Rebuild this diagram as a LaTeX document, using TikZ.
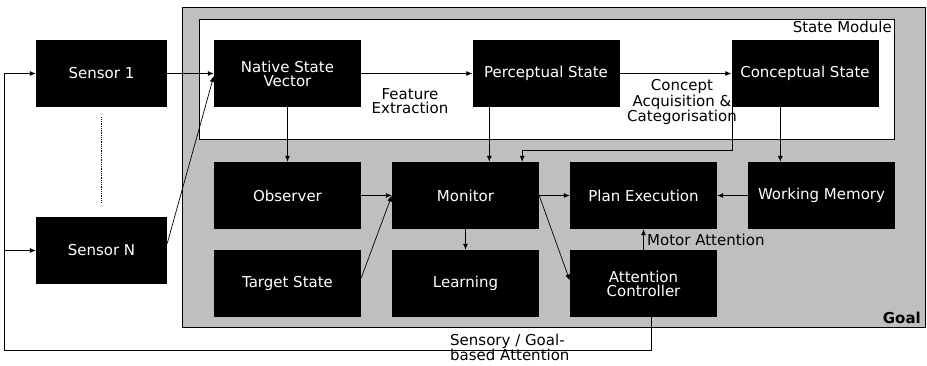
\documentclass[tikz,border=0pt]{standalone}
\usepackage{fontspec}
\setmainfont{DejaVu Sans}
\usetikzlibrary{arrows.meta,positioning,calc}

\begin{document}
\begin{tikzpicture}[x=1pt,y=-1pt,
every node/.style={font=\fontsize{15}{14}\selectfont},
blk/.style={fill=black,text=white,minimum width=147pt,minimum height=67pt,inner sep=0pt,align=center},
arr/.style={-{Latex[length=6pt,width=5pt]},line width=.7pt},
lbl/.style={align=center,inner sep=0pt}]
\useasboundingbox (0,0) rectangle (927,365);
\fill[white] (0,0) rectangle (927,365);
% goal and state module frames
\draw[fill=black!25,line width=.7pt] (182,7) rectangle (925,327);
\draw[fill=white,line width=.7pt] (199,19) rectangle (894,139);
\node[blk,minimum width=131pt] (S1) at (101.5,73.5) {Sensor 1};
\node[blk,minimum width=131pt] (SN) at (101.5,250.5) {Sensor N};
\node[blk] (NSV) at (287.5,73.5) {Native State\\Vector};
\node[blk] (PS) at (546,73.5) {Perceptual State};
\node[blk] (CS) at (805,73.5) {Conceptual State};
\node[blk] (Obs) at (287.5,195.5) {Observer};
\node[blk] (Mon) at (465.5,195.5) {Monitor};
\node[blk] (PE) at (643.5,195.5) {Plan Execution};
\node[blk] (WM) at (821.5,195.5) {Working Memory};
\node[blk] (TS) at (287.5,283.5) {Target State};
\node[blk] (Lrn) at (465.5,283.5) {Learning};
\node[blk] (AC) at (643.5,283.5) {Attention\\Controller};
% labels
\node[anchor=north east,inner sep=0pt] (SM) at (892,21) {State Module};
\node[anchor=south east,inner sep=0pt,font=\fontsize{15}{14}\selectfont\bfseries] (G) at (921,324) {Goal};
\node[lbl] (FE) at (410,101) {Feature\\Extraction};
\node[lbl] (CA) at (682,102) {Concept\\Acquisition \&\\Categorisation};
\node[lbl,anchor=west] (MA) at (647,240) {Motor Attention};
\node[lbl,anchor=west,align=left,font=\fontsize{15}{13}\selectfont] (SA) at (450,347.5) {Sensory / Goal-\\based Attention};
\coordinate (fb) at (4,350);
% feedback to sensors
\draw[arr] ([xshift=7.5pt]AC.south) |- (fb) |- (S1.west);
\draw[arr] (fb |- SN.west) -- (SN.west);
\draw[densely dotted,line width=.8pt] ([yshift=-10pt]S1.south) -- ([yshift=14pt]SN.north);
\draw[arr] (S1) -- (NSV);
\draw[arr] ([yshift=7pt]SN.east) -- ([yshift=-2.5pt]NSV.west);
\draw[arr] (NSV) -- (PS);
\draw[arr] (PS) -- (CS);
\draw[arr] (NSV) -- (Obs);
\draw[arr] ([xshift=17pt]PS.south west) -- ([xshift=17pt]PS.south west |- Mon.north);
\draw[arr] ([xshift=1pt]CS.south west) |- ([xshift=-17pt,yshift=11pt]Mon.north east) -- ([xshift=-17pt]Mon.north east);
\draw[arr] ([xshift=49pt]CS.south west) -- ([xshift=49pt]CS.south west |- WM.north);
\draw[arr] (Obs) -- (Mon);
\draw[arr] ([yshift=5.5pt]TS.east) -- (Mon.west);
\draw[arr] (Mon) -- (Lrn);
\draw[arr] (Mon) -- (PE);
\draw[arr] (Mon.east) -- ([yshift=3pt]AC.west);
\draw[arr] (WM) -- (PE);
\draw[arr] (AC) -- (PE);
\end{tikzpicture}
\end{document}
